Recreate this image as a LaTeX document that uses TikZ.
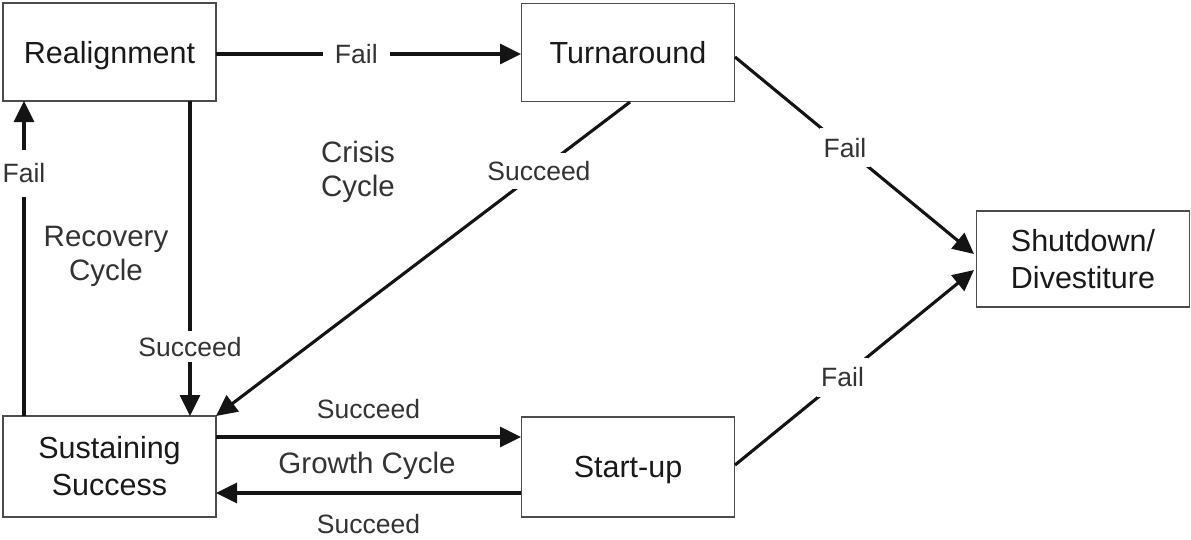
\documentclass[tikz,border=0pt]{standalone}
\usepackage{fontspec}
\setmainfont{Liberation Sans}
\usetikzlibrary{arrows.meta}
\begin{document}
\begin{tikzpicture}[x=1pt,y=-1pt,
  stage/.style={draw=black!70,line width=1.8pt,minimum width=213pt,minimum height=98pt,
    inner sep=0pt,align=center,font=\fontsize{30.5}{37}\selectfont,text=black!90},
  flow/.style={line width=3.1pt,draw=black!92,-{Triangle[length=21pt,width=20pt]}},
  lab/.style={fill=white,inner xsep=12pt,inner ysep=6pt,font=\fontsize{26.5}{31}\selectfont,text=black!80},
  cyc/.style={align=center,font=\fontsize{29.5}{34}\selectfont,text=black!80}]
\useasboundingbox (0,0) rectangle (1191,539);

% stages
\node[stage,text depth=0pt] (re) at (109.5,52) {Realignment};
\node[stage,text depth=0pt] (tu) at (628,52.5) {Turnaround};
\node[stage,minimum height=96pt] (sh) at (1083,259) {Shutdown/\\Divestiture};
\node[stage,minimum height=101pt] (su) at (109.5,466.5) {Sustaining\\Success};
\node[stage,minimum height=100pt,text depth=0pt] (st) at (628,467) {Start-up};

% anchor points on the box edges
\coordinate (reR) at (216,54);
\coordinate (tuL) at (521,54);
\coordinate (reB) at (190,101);
\coordinate (suT) at (190,416);
\coordinate (suTL) at (24,416);
\coordinate (reBL) at (24,101);
\coordinate (tuB) at (630,102);
\coordinate (suTR) at (216,416);
\coordinate (tuR) at (735,57);
\coordinate (shL1) at (974,254);
\coordinate (stR) at (735,465);
\coordinate (shL2) at (974,270);
\coordinate (suR1) at (216,437);
\coordinate (stL1) at (521,437);
\coordinate (stL2) at (521,493);
\coordinate (suR2) at (216,493);

% connectors
\draw[flow] (reR) -- node[lab,pos=0.46] {Fail} (tuL);
\draw[flow] (reB) -- node[lab,pos=0.78] {Succeed} (suT);
\draw[flow] (suTL) -- node[lab,pos=0.77,inner xsep=4pt,inner ysep=14pt] {Fail} (reBL);
\draw[flow] (tuB) -- node[lab,pos=0.22,inner xsep=6pt,inner ysep=8pt] {Succeed} (suTR);
\draw[flow] (tuR) -- node[lab,pos=0.46,inner xsep=4pt,inner ysep=10pt] {Fail} (shL1);
\draw[flow] (stR) -- node[lab,pos=0.45,inner xsep=4pt,inner ysep=10pt] {Fail} (shL2);
\draw[flow] (suR1) -- node[above=13pt,font=\fontsize{26.5}{31}\selectfont,text=black!80] {Succeed} (stL1);
\draw[flow] (stL2) -- node[below=16pt,font=\fontsize{26.5}{31}\selectfont,text=black!80] {Succeed} (suR2);

% cycle names
\node[cyc] (rc) at (106,256) {Recovery\\Cycle};
\node[cyc] (cc) at (358,172) {Crisis\\Cycle};
\node[cyc] (gc) at (367,466) {Growth Cycle};
\end{tikzpicture}
\end{document}
